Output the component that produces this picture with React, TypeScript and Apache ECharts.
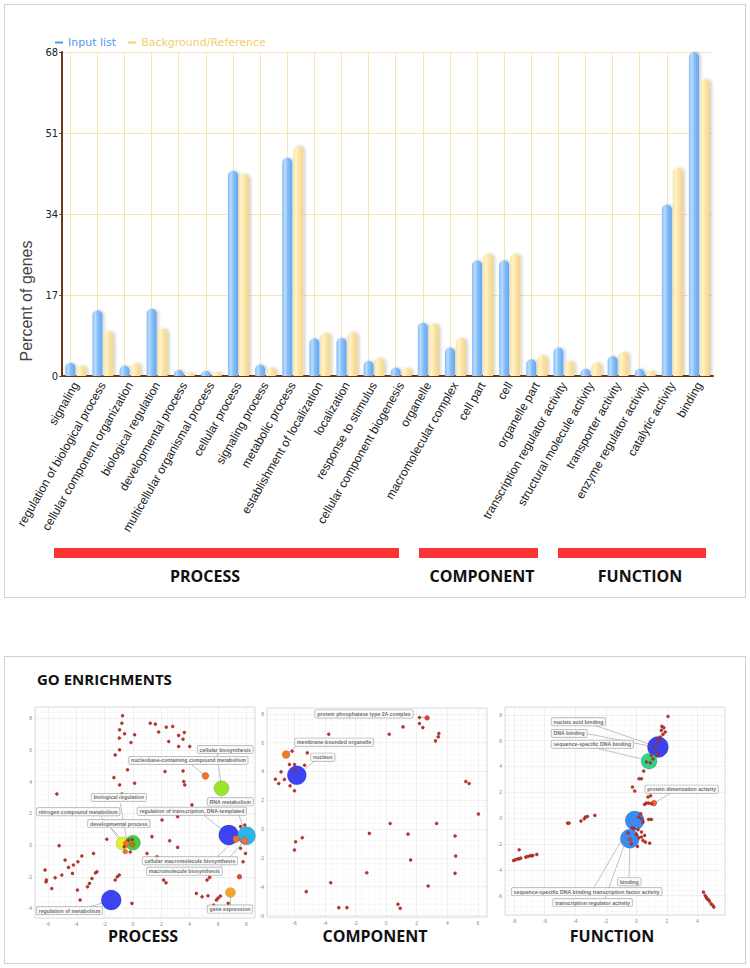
import React, { useEffect, useRef } from "react";
import * as echarts from "echarts";

// ---------- Bar chart data ----------
const categories = [
  "signaling", "regulation of biological process", "cellular component organization",
  "biological regulation", "developmental process", "multicellular organismal process",
  "cellular process", "signaling process", "metabolic process",
  "establishment of localization", "localization", "response to stimulus",
  "cellular component biogenesis", "organelle", "macromolecular complex", "cell part",
  "cell", "organelle part", "transcription regulator activity",
  "structural molecule activity", "transporter activity", "enzyme regulator activity",
  "catalytic activity", "binding",
];
const inputList = [2.8, 13.8, 2.2, 14.1, 1.3, 1.1, 43.1, 2.4, 45.8, 7.9, 8.0, 3.2, 1.8, 11.2, 6.0, 24.3, 24.3, 3.5, 6.0, 1.5, 4.2, 1.5, 36.0, 68.0];
const background = [2.2, 9.4, 2.7, 9.9, 0.7, 0.9, 42.4, 1.8, 48.3, 9.1, 9.3, 3.8, 1.7, 11.0, 8.0, 25.7, 25.7, 4.4, 3.2, 2.9, 5.1, 1.1, 43.7, 62.3];
const yMax = 68;
const yStep = 17;
const seriesNames = ["Input list", "Background/Reference"];
const groupNames = ["PROCESS", "COMPONENT", "FUNCTION"];

// ---------- GO enrichment scatter data ----------
const processDots = [
  [-0.73, 8.15], [-0.78, 7.68], [-0.94, 7.26], [-0.96, 6.74], [-0.59, 7.01], [0.12, 6.95], [-0.14, 6.46],
  [-0.94, 6.0], [-1.25, 5.68], [-0.38, 4.74], [-1.34, 4.25], [-0.94, 3.79], [0.12, 3.89], [-0.78, 3.22],
  [-5.36, 3.22], [1.22, 7.68], [1.58, 7.62], [1.81, 7.12], [2.35, 7.43], [2.8, 7.47], [2.52, 6.53],
  [3.22, 6.91], [3.62, 7.09], [3.53, 6.67], [3.22, 6.21], [4.0, 6.21], [2.26, 4.63], [3.53, 4.67],
  [3.58, 4.0], [3.65, 3.79], [4.16, 2.53], [2.05, 1.58], [3.15, 1.79], [2.59, 0.27], [3.15, -0.15],
  [1.34, 0.53], [0.99, -0.53], [1.69, -0.74], [-1.84, 0.36], [-5.2, -0.04], [-3.6, -0.69], [-2.78, -0.53],
  [-4.78, -0.95], [-3.88, -1.05], [-4.19, -1.26], [-4.54, -1.41], [-6.19, -1.58], [-6.12, -2.32],
  [-6.1, -2.2], [-5.72, -2.74], [-5.48, -2.06], [-5.01, -1.89], [-4.26, -1.79], [-2.54, -1.68],
  [-2.64, -1.76], [-2.89, -2.11], [-3.06, -2.42], [-3.2, -2.63], [-0.96, -1.89], [-1.1, -2.0],
  [-1.25, -2.21], [-3.91, -2.84], [-3.72, -3.47], [-0.07, -3.68], [2.16, -2.21], [2.33, -2.38],
  [4.47, -3.05], [5.29, -3.2], [5.88, -3.47], [6.16, -3.22], [6.0, -3.35], [5.69, -3.79], [6.71, -3.68],
  [7.58, 1.16], [7.88, 1.26], [7.93, -0.53], [7.58, -0.21], [7.76, -1.05], [4.87, -3.26], [5.22, -2.21],
  [-0.61, -0.11], [-0.19, -0.44], [-0.3, 0.3], [-0.05, 0.35],
];
const processBubbles = [
  [-1.53, -3.47, 20], [6.75, 0.63, 20], [8.0, 0.59, 18], [6.24, 3.58, 15], [-0.73, 0.1, 13],
  [0.0, 0.15, 15], [5.11, 4.36, 7], [7.27, 0.38, 7], [7.86, 0.27, 7], [-0.47, 0.1, 6],
  [-0.02, 0.02, 5], [-0.54, -0.42, 5], [6.87, -2.99, 10], [7.5, -2.0, 5], [5.4, -2.04, 3.5],
];
const processBubbleColors = [
  "#3b43f2", "#3b43f2", "#2db4ea", "#98e52a", "#e5f02c", "#3fd23f", "#f0702e", "#f0702e", "#f0702e",
  "#f0702e", "#e85a2a", "#f0702e", "#f5a623", "#e4483a", "#d0402e",
];
const processLabels = [
  "cellular biosynthesis", "nucleobase-containing compound metabolism", "RNA metabolism",
  "biological regulation", "nitrogen compound metabolism", "regulation of transcription, DNA-templated",
  "developmental process", "cellular macromolecule biosynthesis", "macromolecule biosynthesis",
  "regulation of metabolism", "gene expression",
];
const processLabelPos = [
  [4.52, 6.02], [-0.31, 5.33], [5.22, 2.72], [-2.96, 3.0], [-6.82, 2.1], [0.28, 2.13],
  [-3.2, 1.35], [0.64, -0.99], [0.94, -1.66], [-6.82, -4.13], [5.22, -4.04],
];
const processLinks = [
  [4.16, 5.05, 5.11, 4.36], [5.93, 5.79, 6.24, 3.58], [6.24, 2.88, 6.24, 3.58], [-0.89, 2.63, -0.42, 0.21],
  [-2.31, 1.85, -0.54, 0.1], [-1.6, 1.12, -0.78, 0.1], [4.99, 1.89, 6.75, 0.63], [7.46, 1.89, 8.0, 0.59],
  [5.93, -0.74, 7.27, 0.38], [6.16, -1.41, 7.86, 0.27], [-3.01, -3.89, -1.84, -3.58], [6.87, -3.81, 6.87, -3.22],
];

const componentDots = [
  [-3.76, 6.58], [0.2, 6.58], [1.1, 7.09], [2.18, 7.74], [2.18, 7.32], [2.4, 7.04], [3.45, 6.63],
  [3.41, 6.4], [3.23, 6.12], [-6.15, 5.4], [-5.16, 5.29], [-6.33, 4.48], [-6.0, 4.48], [-5.34, 4.43],
  [-6.88, 3.97], [-7.25, 3.46], [-7.03, 3.16], [-6.66, 3.44], [-6.29, 3.0], [-6.0, 2.66], [-6.0, 4.04],
  [5.21, 3.3], [5.43, 3.16], [6.04, 1.04], [0.26, 0.39], [3.3, 0.39], [-1.1, -0.3], [1.43, -0.35],
  [4.51, -0.48], [-5.93, -0.88], [-5.49, -0.6], [-6.0, -1.45], [1.6, -2.15], [4.55, -1.87],
  [-1.27, -3.03], [4.51, -3.07], [-3.63, -3.72], [2.75, -3.95], [-5.23, -4.34], [-3.1, -5.45],
  [-2.57, -5.45], [0.77, -5.22], [0.92, -5.5],
];
const componentBubbles = [[-5.85, 3.74, 19], [-6.55, 5.17, 8], [2.68, 7.71, 5]];
const componentBubbleColors = ["#3b43f2", "#f07a2a", "#e0402e"];
const componentLabels = ["protein phosphatase type 2A complex", "membrane-bounded organelle", "nucleus"];
const componentLabelPos = [[-4.68, 7.99], [-6.0, 6.03], [-4.95, 4.99]];
const componentLinks = [
  [2.13, 7.78, 2.68, 7.71], [-5.89, 5.75, -6.44, 5.29], [-4.68, 4.73, -5.56, 3.97],
];

const functionDots = [
  [2.07, 7.87], [1.67, 7.1], [1.8, 6.99], [1.63, 6.79], [1.89, 6.66], [1.74, 6.48], [1.57, 6.27],
  [1.41, 6.01], [1.26, 5.5], [1.37, 4.98], [0.98, 4.85], [1.09, 4.57], [0.65, 4.34], [0.91, 4.28],
  [0.48, 3.64], [0.33, 3.05], [0.17, 3.05], [-0.26, 2.4], [-0.11, 2.09], [0.93, 1.73], [0.76, 1.63],
  [0.65, 1.16], [0.8, 1.16], [0.54, 1.06], [0.98, 1.11], [-4.5, -0.39], [-4.41, -0.39], [-3.63, -0.23],
  [-3.41, -0.05], [-3.33, 0.08], [-3.2, 0.13], [-2.72, 0.21], [0.28, 0.34], [0.15, 0.08], [0.33, -0.05],
  [0.43, -0.31], [0.8, -0.1], [0.98, -0.1], [-0.28, -0.75], [-0.15, -0.83], [0.11, -0.9], [0.33, -1.08],
  [0.54, -1.34], [0.33, -1.47], [0.15, -1.52], [0.43, -1.73], [0.59, -1.86], [0.87, -1.94], [0.07, -2.19],
  [-0.33, -1.99], [-0.54, -1.14], [0.0, -1.26], [-7.67, -2.45], [-8.04, -3.28], [-7.93, -3.23],
  [-7.78, -3.17], [-7.67, -3.15], [-7.57, -3.1], [-7.24, -3.02], [-7.11, -2.97], [-6.96, -2.92],
  [-6.85, -2.92], [-6.78, -2.89], [-6.52, -2.81], [4.39, -5.73], [4.5, -5.99], [4.57, -6.12],
  [4.63, -6.25], [4.72, -6.32], [4.78, -6.43], [4.89, -6.63], [5.0, -6.76], [5.07, -6.89],
];
const functionBubbles = [
  [1.41, 5.5, 21], [0.83, 4.41, 16], [1.15, 1.16, 6], [-0.11, -0.18, 19], [-0.43, -1.6, 19], [-0.43, -1.65, 4],
];
const functionBubbleColors = ["#3b43e8", "#2fd48a", "#f06030", "#3a8cf2", "#3a8cf2", "#e03a2a"];
const functionLabels = [
  "nucleic acid binding", "DNA binding", "sequence-specific DNA binding", "protein dimerization activity",
  "binding", "sequence-specific DNA binding transcription factor activity", "transcription regulator activity",
];
const functionLabelPos = [
  [-5.59, 7.46], [-5.59, 6.55], [-5.59, 5.72], [0.54, 2.24], [-1.24, -4.92], [-8.2, -5.69], [-5.48, -6.54],
];
const functionLinks = [
  [-2.72, 7.17, 0.8, 5.75], [-3.2, 6.53, 0.8, 5.6], [-2.72, 5.45, 0.54, 4.52], [2.28, 1.96, 1.15, 1.16],
  [-0.48, -4.65, -0.43, -2.12], [-2.78, -5.39, -0.98, -1.73], [-2.07, -6.25, -0.72, -1.86],
];

const plotRanges = [
  { x: [-6.9, 8.6], y: [-4.6, 8.7] },
  { x: [-7.8, 6.6], y: [-6.1, 8.4] },
  { x: [-8.6, 5.8], y: [-7.5, 8.6] },
];

// ---------- Styles ----------
const BROWN = "#6b3a18";
const GRIDY = "#f7e4b2";

function buildTop(): echarts.EChartsOption {
  const blueGrad = new echarts.graphic.LinearGradient(0, 0, 1, 0, [
    { offset: 0, color: "#86bdf7" },
    { offset: 0.3, color: "#bddcfc" },
    { offset: 0.5, color: "#8cc3f8" },
    { offset: 1, color: "#62a5f2" },
  ]);
  const yellowGrad = new echarts.graphic.LinearGradient(0, 0, 1, 0, [
    { offset: 0, color: "#fbe3a2" },
    { offset: 0.3, color: "#fff3cf" },
    { offset: 0.5, color: "#fde7aa" },
    { offset: 1, color: "#f3d48a" },
  ]);
  const gridLeft = 39, gridTop = 47, gridRight = 31, gridBottom = 220;
  const barY = 543;
  const groupBars = [
    { x0: 40, x1: 385, lx: 191 },
    { x0: 405, x1: 524, lx: 468 },
    { x0: 544, x1: 692, lx: 626 },
  ];
  const graphic: any[] = [
    {
      type: "text", x: 12, y: 296, rotation: Math.PI / 2,
      style: { text: "Percent of genes", fontSize: 16, fontFamily: "Liberation Sans", fill: "#444", align: "center", verticalAlign: "middle" },
    },
  ];
  groupNames.forEach((g, i) => {
    const b = groupBars[i];
    graphic.push({ type: "rect", shape: { x: b.x0, y: barY, width: b.x1 - b.x0, height: 10 }, style: { fill: "#fa3434" } });
    graphic.push({
      type: "text", x: b.lx, y: 571,
      style: { text: g, fontSize: 16, fontWeight: "bold", fontFamily: "Open Sans", fill: "#111", align: "center", verticalAlign: "middle" },
    });
  });
  return {
    animation: false,
    backgroundColor: "transparent",
    grid: { left: gridLeft, top: gridTop, right: gridRight, bottom: gridBottom },
    legend: {
      left: 41, top: 32, padding: 0, icon: "rect", itemWidth: 8, itemHeight: 2, itemGap: 12,
      textStyle: { fontFamily: "DejaVu Sans", fontSize: 11 },
      data: [
        { name: seriesNames[0], itemStyle: { color: "#4d9de8" }, textStyle: { color: "#4d9de8" } },
        { name: seriesNames[1], itemStyle: { color: "#f6d070" }, textStyle: { color: "#f4cd6a" } },
      ],
    },
    xAxis: {
      type: "category", data: categories,
      axisLine: { lineStyle: { color: BROWN, width: 2 } },
      axisTick: { alignWithLabel: true, length: 4, lineStyle: { color: BROWN, width: 1.5 } },
      axisLabel: { interval: 0, rotate: 60, fontSize: 12, fontFamily: "Liberation Sans", color: "#222", margin: 7 },
      splitLine: { show: false },
    },
    yAxis: {
      type: "value", min: 0, max: yMax, interval: yStep,
      axisLine: { show: true, lineStyle: { color: BROWN, width: 2 } },
      axisTick: { show: true, length: 3, lineStyle: { color: BROWN } },
      axisLabel: { fontSize: 10, fontFamily: "DejaVu Sans", color: "#222", margin: 4 },
      splitLine: { lineStyle: { color: GRIDY, width: 1 } },
    },
    series: [
      {
        name: seriesNames[0], type: "bar", data: inputList, barWidth: 10, barGap: "10%",
        itemStyle: { color: blueGrad, borderRadius: [5, 5, 0, 0], shadowColor: "rgba(0,0,0,0.18)", shadowBlur: 3, shadowOffsetX: 2 },
        z: 3,
        markLine: {
          silent: true, symbol: "none", label: { show: false }, z: 1,
          lineStyle: { color: GRIDY, type: "solid", width: 1 },
          data: categories.map((c) => ({ xAxis: c })),
        },
      },
      {
        name: seriesNames[1], type: "bar", data: background, barWidth: 10, barGap: "10%",
        itemStyle: { color: yellowGrad, borderRadius: [5, 5, 0, 0], shadowColor: "rgba(0,0,0,0.18)", shadowBlur: 3, shadowOffsetX: 2 },
        z: 3,
      },
    ],
    graphic,
  };
}

function plotSeries(i: number, dots: number[][], bubbles: number[][], colors: string[], labels: string[], labelPos: number[][], links: number[][]) {
  return [
    {
      type: "lines", coordinateSystem: "cartesian2d", xAxisIndex: i, yAxisIndex: i, z: 2, silent: true,
      lineStyle: { color: "#9a9a9a", width: 0.6, opacity: 1 },
      data: links.map((l) => ({ coords: [[l[0], l[1]], [l[2], l[3]]] })),
    },
    {
      type: "scatter", xAxisIndex: i, yAxisIndex: i, z: 3, silent: true,
      data: bubbles.map((b, k) => ({ value: b, symbolSize: b[2], itemStyle: { color: colors[k] } })),
      itemStyle: { borderColor: "rgba(0,0,0,0.2)", borderWidth: 0.6, opacity: 1 },
    },
    {
      type: "scatter", xAxisIndex: i, yAxisIndex: i, z: 4, silent: true, symbolSize: 3,
      data: dots,
      itemStyle: { color: "#c4322a", borderColor: "#7d1a12", borderWidth: 0.4, opacity: 1 },
    },
    {
      type: "scatter", xAxisIndex: i, yAxisIndex: i, z: 5, silent: true, symbolSize: 1,
      data: labels.map((t, k) => ({ name: t, value: labelPos[k] })),
      itemStyle: { color: "rgba(0,0,0,0)" },
      label: {
        show: true, position: "right", distance: 0, formatter: "{b}",
        fontSize: 5.2, lineHeight: 5.6, fontWeight: "bold", fontFamily: "Liberation Sans", color: "#444",
        backgroundColor: "#fbfbfb", borderColor: "#a0a0a0", borderWidth: 0.7, borderRadius: 1.5, padding: [1, 2],
      },
    },
  ];
}

function buildBottom(): echarts.EChartsOption {
  const grids = [
    { left: 30, top: 50, width: 220, height: 211 },
    { left: 262, top: 51, width: 220, height: 209 },
    { left: 500, top: 50, width: 220, height: 208 },
  ];
  const titleX = [138, 370, 607];
  const axisCommon = {
    type: "value" as const, minInterval: 2, maxInterval: 2, splitNumber: 8,
    axisLine: { show: false }, axisTick: { show: false },
    axisLabel: { fontSize: 5, color: "#8a8a8a", margin: 3, showMinLabel: false, showMaxLabel: false },
    splitLine: { lineStyle: { color: "#e6e6e6", width: 0.6 } },
    minorSplitLine: { show: true, lineStyle: { color: "#f3f3f3", width: 0.5 } },
  };
  const graphic: any[] = [
    {
      type: "text", x: 32, y: 22,
      style: { text: "GO ENRICHMENTS", fontSize: 15, fontWeight: "bold", fontFamily: "Open Sans", fill: "#111", align: "left", verticalAlign: "middle" },
    },
  ];
  groupNames.forEach((g, i) => {
    graphic.push({
      type: "text", x: titleX[i], y: 279,
      style: { text: g, fontSize: 16, fontWeight: "bold", fontFamily: "Open Sans", fill: "#111", align: "center", verticalAlign: "middle" },
    });
  });
  return {
    animation: false,
    grid: grids.map((g) => ({ ...g, show: true, borderColor: "#d4d4d4", borderWidth: 0.8, backgroundColor: "#fff" })),
    xAxis: plotRanges.map((r, i) => ({ ...axisCommon, gridIndex: i, min: r.x[0], max: r.x[1] })),
    yAxis: plotRanges.map((r, i) => ({ ...axisCommon, gridIndex: i, min: r.y[0], max: r.y[1] })),
    series: [
      ...plotSeries(0, processDots, processBubbles, processBubbleColors, processLabels, processLabelPos, processLinks),
      ...plotSeries(1, componentDots, componentBubbles, componentBubbleColors, componentLabels, componentLabelPos, componentLinks),
      ...plotSeries(2, functionDots, functionBubbles, functionBubbleColors, functionLabels, functionLabelPos, functionLinks),
    ] as any,
    graphic,
  };
}

export default function App() {
  const topRef = useRef<HTMLDivElement>(null);
  const botRef = useRef<HTMLDivElement>(null);
  useEffect(() => {
    const top = echarts.init(topRef.current!, null, { renderer: "svg" });
    top.setOption(buildTop());
    const bot = echarts.init(botRef.current!, null, { renderer: "svg" });
    bot.setOption(buildBottom());
    return () => {
      top.dispose();
      bot.dispose();
    };
  }, []);
  const panel: React.CSSProperties = {
    position: "absolute", left: 4, width: 742, border: "1px solid #c9d2de", boxSizing: "border-box", background: "#fff",
  };
  return (
    <div style={{ position: "absolute", left: 0, top: 0, width: 750, height: 968, background: "#fff", overflow: "hidden" }}>
      <div style={{ ...panel, top: 4, height: 594 }} />
      <div ref={topRef} style={{ position: "absolute", left: 14, top: 5, width: 730, height: 591 }} />
      <div style={{ ...panel, top: 656, height: 308 }} />
      <div ref={botRef} style={{ position: "absolute", left: 5, top: 657, width: 740, height: 305 }} />
    </div>
  );
}
